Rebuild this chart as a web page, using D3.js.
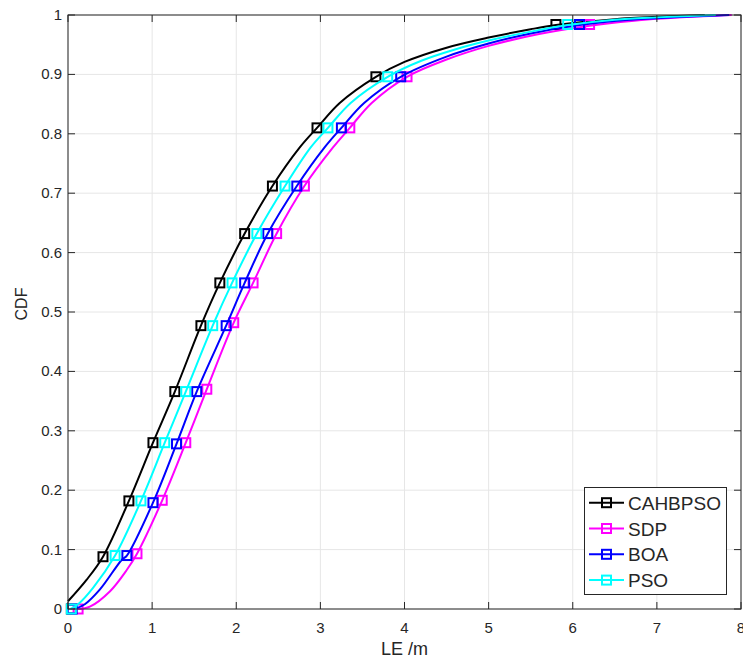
<!DOCTYPE html>
<html>
<head>
<meta charset="utf-8">
<script src="https://cdn.jsdelivr.net/npm/d3@7"></script>
<style>
  body { margin: 0; background: #fff; }
  svg text { font-family: "Liberation Sans", Arial, sans-serif; fill: #262626; }
</style>
</head>
<body>
<script>
// series names and colours (legend order)
var seriesNames = ["CAHBPSO", "SDP", "BOA", "PSO"];
var seriesColors = ["#000000", "#ff00ff", "#0000ff", "#00ffff"];

// curve points
var cahbpsoX = [0, 0.22, 0.416, 0.724, 1.01, 1.27, 1.58, 1.805, 2.10, 2.43, 2.755, 2.96, 3.23, 3.66, 4.0, 4.5, 5.0, 5.5, 5.8, 6.5, 7.0, 7.57];
var cahbpsoY = [0.013, 0.049, 0.088, 0.182, 0.280, 0.366, 0.477, 0.549, 0.632, 0.712, 0.777, 0.810, 0.852, 0.896, 0.921, 0.945, 0.962, 0.976, 0.983, 0.993, 0.997, 1.0];
var sdpX = [0.12, 0.26, 0.5, 0.70, 0.82, 1.12, 1.40, 1.65, 1.97, 2.20, 2.48, 2.81, 3.15, 3.35, 3.61, 4.03, 4.5, 5.0, 5.6, 6.20, 6.7, 7.3, 7.89];
var sdpY = [0.0, 0.004, 0.03, 0.066, 0.093, 0.183, 0.280, 0.370, 0.482, 0.549, 0.632, 0.712, 0.777, 0.810, 0.852, 0.896, 0.925, 0.948, 0.968, 0.982, 0.990, 0.996, 1.0];
var boaX = [0.08, 0.2, 0.38, 0.64, 0.70, 1.01, 1.29, 1.53, 1.88, 2.10, 2.375, 2.72, 3.05, 3.25, 3.52, 3.955, 4.5, 5.0, 5.5, 6.08, 6.6, 7.2, 7.86];
var boaY = [0.0, 0.008, 0.033, 0.083, 0.090, 0.179, 0.278, 0.366, 0.477, 0.549, 0.632, 0.712, 0.777, 0.810, 0.852, 0.896, 0.930, 0.952, 0.969, 0.983, 0.991, 0.996, 1.0];
var psoX = [0.03, 0.12, 0.30, 0.56, 0.867, 1.15, 1.40, 1.72, 1.95, 2.245, 2.58, 2.885, 3.09, 3.36, 3.80, 4.2, 4.6, 5.0, 5.5, 5.94, 6.5, 7.0, 7.7];
var psoY = [0.0, 0.008, 0.036, 0.090, 0.182, 0.280, 0.366, 0.477, 0.549, 0.632, 0.712, 0.777, 0.810, 0.852, 0.896, 0.923, 0.942, 0.957, 0.972, 0.983, 0.992, 0.996, 1.0];

// marker positions
var cahbpsoMarkX = [0.04, 0.416, 0.724, 1.01, 1.27, 1.58, 1.805, 2.10, 2.43, 2.96, 3.66, 5.80];
var cahbpsoMarkY = [0.0, 0.088, 0.182, 0.280, 0.366, 0.477, 0.549, 0.632, 0.712, 0.810, 0.896, 0.984];
var sdpMarkX = [0.12, 0.82, 1.12, 1.40, 1.65, 1.97, 2.20, 2.48, 2.81, 3.35, 4.03, 6.20];
var sdpMarkY = [0.0, 0.093, 0.183, 0.280, 0.370, 0.482, 0.549, 0.632, 0.712, 0.810, 0.896, 0.984];
var boaMarkX = [0.05, 0.70, 1.01, 1.29, 1.53, 1.88, 2.10, 2.375, 2.72, 3.25, 3.955, 6.08];
var boaMarkY = [0.0, 0.090, 0.179, 0.278, 0.366, 0.477, 0.549, 0.632, 0.712, 0.810, 0.896, 0.984];
var psoMarkX = [0.04, 0.56, 0.867, 1.15, 1.40, 1.72, 1.95, 2.245, 2.58, 3.09, 3.80, 5.94];
var psoMarkY = [0.0, 0.090, 0.182, 0.280, 0.366, 0.477, 0.549, 0.632, 0.712, 0.810, 0.896, 0.984];

var xTicks = [0, 1, 2, 3, 4, 5, 6, 7, 8];
var yTicks = [0, 0.1, 0.2, 0.3, 0.4, 0.5, 0.6, 0.7, 0.8, 0.9, 1];

function init() {
    var w = 743, h = 658;
    var left = 68, top = 15, right = 741, bottom = 609;

    var svg = d3.select("body").append("svg").attr("width", w).attr("height", h);

    var x = d3.scaleLinear().domain([0, 8]).range([left, right]);
    var y = d3.scaleLinear().domain([0, 1]).range([bottom, top]);

    // grid
    svg.append("g").selectAll("line").data(xTicks).enter().append("line")
        .attr("x1", d => x(d)).attr("x2", d => x(d)).attr("y1", top).attr("y2", bottom)
        .attr("stroke", "#e6e6e6").attr("stroke-width", 1);
    svg.append("g").selectAll("line").data(yTicks).enter().append("line")
        .attr("y1", d => y(d)).attr("y2", d => y(d)).attr("x1", left).attr("x2", right)
        .attr("stroke", "#e6e6e6").attr("stroke-width", 1);

    var series = [
        { name: seriesNames[0], color: seriesColors[0], xs: cahbpsoX, ys: cahbpsoY, mx: cahbpsoMarkX, my: cahbpsoMarkY },
        { name: seriesNames[1], color: seriesColors[1], xs: sdpX, ys: sdpY, mx: sdpMarkX, my: sdpMarkY },
        { name: seriesNames[2], color: seriesColors[2], xs: boaX, ys: boaY, mx: boaMarkX, my: boaMarkY },
        { name: seriesNames[3], color: seriesColors[3], xs: psoX, ys: psoY, mx: psoMarkX, my: psoMarkY }
    ];

    var line = d3.line().x(d => x(d[0])).y(d => y(d[1])).curve(d3.curveCatmullRom.alpha(0.5));
    var ms = 9;

    series.forEach(function (s) {
        var pts = s.xs.map((v, i) => [v, s.ys[i]]);
        var marks = s.mx.map((v, i) => [v, s.my[i]]);
        var g = svg.append("g");
        g.append("path").datum(pts).attr("d", line)
            .attr("fill", "none").attr("stroke", s.color).attr("stroke-width", 2);
        g.selectAll("rect").data(marks).enter().append("rect")
            .attr("x", d => x(d[0]) - ms / 2).attr("y", d => y(d[1]) - ms / 2)
            .attr("width", ms).attr("height", ms)
            .attr("fill", "none").attr("stroke", s.color).attr("stroke-width", 2);
    });

    // axes box
    var axisColor = "#262626";
    svg.append("rect").attr("x", left).attr("y", top).attr("width", right - left).attr("height", bottom - top)
        .attr("fill", "none").attr("stroke", axisColor).attr("stroke-width", 1);

    var tl = 7;
    var ticks = svg.append("g").attr("stroke", axisColor).attr("stroke-width", 1);
    xTicks.forEach(function (t) {
        ticks.append("line").attr("x1", x(t)).attr("x2", x(t)).attr("y1", bottom).attr("y2", bottom - tl);
        ticks.append("line").attr("x1", x(t)).attr("x2", x(t)).attr("y1", top).attr("y2", top + tl);
    });
    yTicks.forEach(function (t) {
        ticks.append("line").attr("y1", y(t)).attr("y2", y(t)).attr("x1", left).attr("x2", left + tl);
        ticks.append("line").attr("y1", y(t)).attr("y2", y(t)).attr("x1", right).attr("x2", right - tl);
    });

    svg.append("g").selectAll("text").data(xTicks).enter().append("text")
        .attr("x", d => x(d)).attr("y", bottom + 24)
        .attr("text-anchor", "middle").style("font-size", "15px")
        .text(d => d);
    svg.append("g").selectAll("text").data(yTicks).enter().append("text")
        .attr("x", left - 6).attr("y", d => y(d) + 5)
        .attr("text-anchor", "end").style("font-size", "15px")
        .text(d => d);

    svg.append("text").attr("x", (left + right) / 2).attr("y", 655)
        .attr("text-anchor", "middle").style("font-size", "18px").text("LE /m");
    svg.append("text").attr("transform", "translate(27,304) rotate(-90)")
        .attr("text-anchor", "middle").style("font-size", "16px").text("CDF");

    // legend
    var lg = svg.append("g");
    lg.append("rect").attr("x", 584.5).attr("y", 487.5).attr("width", 142).attr("height", 107)
        .attr("fill", "#fff").attr("stroke", axisColor).attr("stroke-width", 1);
    series.forEach(function (s, i) {
        var ly = 502.7 + i * 25.8;
        lg.append("line").attr("x1", 589).attr("x2", 624).attr("y1", ly).attr("y2", ly)
            .attr("stroke", s.color).attr("stroke-width", 2);
        lg.append("rect").attr("x", 606.5 - ms / 2).attr("y", ly - ms / 2).attr("width", ms).attr("height", ms)
            .attr("fill", "none").attr("stroke", s.color).attr("stroke-width", 2);
        lg.append("text").attr("x", 628).attr("y", ly + 7).style("font-size", "19px").text(s.name);
    });
}

window.onload = init;
</script>
</body>
</html>
